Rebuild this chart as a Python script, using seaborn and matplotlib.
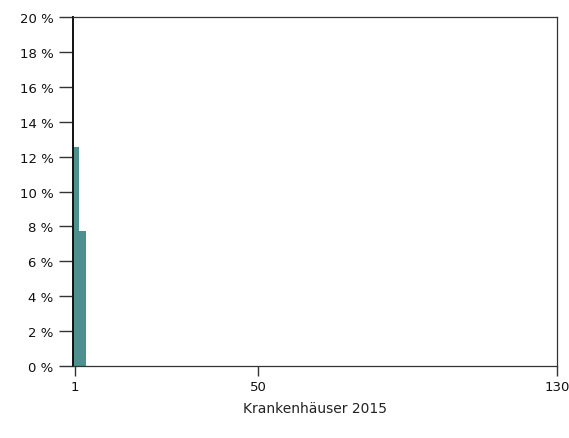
import numpy as np
import matplotlib
matplotlib.use("Agg")
import matplotlib.pyplot as plt
import seaborn as sns

# histogram bins (hospital count) and share in percent
bin_edges = [0.5, 2.1, 3.9]
shares = [12.55, 7.75]
x_ticks = [1, 50, 130]
y_ticks = [0, 2, 4, 6, 8, 10, 12, 14, 16, 18, 20]


def main():
    sns.set_style("white")
    plt.rcParams['font.family'] = ['DejaVu Sans']
    fig = plt.figure(figsize=(5.69, 4.39), dpi=100)
    ax = fig.add_axes([0.128, 0.164, 0.851, 0.795])

    centers = [(a + b) / 2 for a, b in zip(bin_edges[:-1], bin_edges[1:])]
    sns.histplot(x=centers, weights=shares, bins=bin_edges, ax=ax,
                 color="#4e908e", alpha=1, edgecolor="none", linewidth=0)

    ax.set_xlim(0.5, 130)
    ax.set_ylim(0, 20)
    ax.set_xticks(x_ticks)
    ax.set_yticks(y_ticks)
    ax.set_yticklabels([f"{v} %" for v in y_ticks])
    ax.set_xlabel("Krankenhäuser 2015", fontsize=10, labelpad=6,
                  color="#222222")
    ax.set_ylabel("")
    ax.tick_params(axis="y", left=True, direction="out", length=10,
                   width=1, labelsize=9.5, pad=4, color="#333333",
                   labelcolor="#111111")
    ax.tick_params(axis="x", bottom=True, direction="out", length=7,
                   width=1, labelsize=9.5, pad=3, color="#333333",
                   labelcolor="#111111")
    for side in ["top", "right", "bottom"]:
        ax.spines[side].set_color("#333333")
        ax.spines[side].set_linewidth(0.9)
    ax.spines["left"].set_color("#111111")
    ax.spines["left"].set_linewidth(1.4)

    fig.savefig("out.png", dpi=100)


if __name__ == '__main__':
    main()
